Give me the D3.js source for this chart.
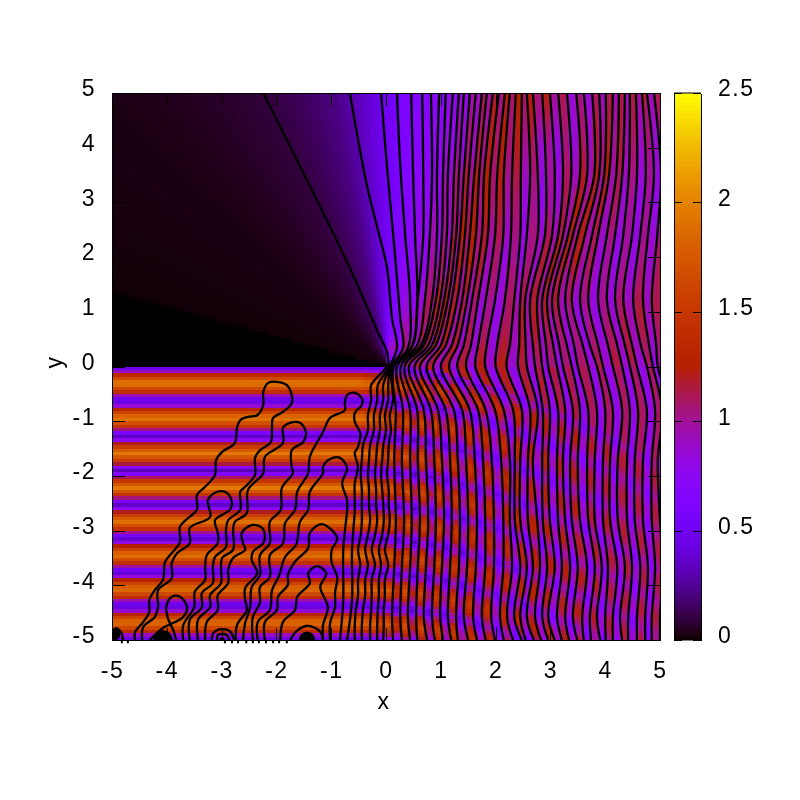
<!DOCTYPE html>
<html><head><meta charset="utf-8">
<script src="https://cdnjs.cloudflare.com/ajax/libs/d3/7.8.5/d3.min.js"></script>
<style>
html,body{margin:0;padding:0;background:#fff}
#wrap{position:relative;width:800px;height:800px}
canvas,svg{position:absolute;left:0;top:0}
text{font-family:"Liberation Sans",Arial,sans-serif;font-size:23px;letter-spacing:1.5px;fill:#000}
</style></head><body><div id="wrap"><canvas id="c" width="800" height="800"></canvas><svg id="s" width="800" height="800"></svg></div>
<script>
// ---------- ticks ----------
const xTicks=[-5,-4,-3,-2,-1,0,1,2,3,4,5];
const yTicks=[-5,-4,-3,-2,-1,0,1,2,3,4,5];
const cbTicks=[0,0.5,1,1.5,2,2.5];

// ---------- colour field readings ----------
// horizontal bands below y=0 (y, value)
const bandY=[.08,0,-.04,-.1,-.17,-.31,-.46,-.53,-.59,-.63,-.67,-.73,-.8,-.95,-1.1,-1.17,-1.23,-1.27,-1.31,-1.37,-1.44,-1.59,-1.74,-1.81,-1.87,-1.91,-1.95,-2.01,-2.08,-2.22,-2.35,-2.42,-2.48,-2.52,-2.56,-2.62,-2.69,-2.83,-2.97,-3.04,-3.1,-3.14,-3.18,-3.24,-3.31,-3.45,-3.59,-3.66,-3.72,-3.76,-3.8,-3.86,-3.93,-4.07,-4.21,-4.28,-4.34,-4.38,-4.42,-4.48,-4.55,-4.69,-4.83,-4.9,-4.96,-5];
const bandV=[1.3,.32,.5,.95,1.45,2.0,1.45,.95,.5,.33,.5,.95,1.45,1.98,1.45,.95,.5,.3,.5,.95,1.45,1.97,1.45,.95,.5,.3,.5,.95,1.45,1.96,1.45,.95,.5,.3,.5,.95,1.45,1.95,1.45,.95,.5,.3,.5,.95,1.45,1.95,1.45,.95,.5,.3,.5,.95,1.45,1.93,1.45,.95,.5,.3,.5,.95,1.45,1.92,1.45,.95,.5,.3];
// lower half: how the bands fade to the right
const lowX=[-.5,0,.5,1,1.5,2,3,4,5];
const lowMean=[1.3,1.2,1.1,1.05,1.03,1,.98,.95,.95];
const lowStripe=[0,.1,.25,.28,.28,.26,.2,.18,.17];
const lowDepth=[1,.8,.55,.42,.35,.28,.2,.14,.1];
const lowShift=[0,.02,.07,.15,.28,.42,.8,1.25,1.8];
// dark wedge above y=0: angle from the -x axis in degrees, value
const wedgeAngle=[0,15,16,28,29,40,45,50,57,65,72,79,83,86,90,95,100,110,180];
const wedgeValue=[0,0,.012,.018,.022,.026,.03,.04,.06,.09,.14,.21,.3,.38,.5,.6,.68,.75,.8];
const originR=[0,.1,.2,.35];
const originK=[.1,.4,.7,1];
// upper right: stripe high and low values
const gridX=[0,.5,1,1.5,2,2.5,3,3.5,4,4.5,5];
const gridY=[5,4,3,2,1,0];
const gridHi=[
[.62,.72,.8,.95,1.2,1.28,1.25,1.05,1.15,1.2,1.15],
[.62,.75,.85,1.1,1.3,1.2,1,1.1,1.28,1.1,1],
[.62,.78,.95,1.3,1.25,1.05,1,1.28,1.2,1,1],
[.6,.8,1.1,1.3,1.1,1,1.25,1.25,1,1,1.15],
[.6,1,1.3,1.1,1,1.25,1.2,1,1.05,1.2,1.15],
[1.1,1.3,1.2,1.2,1.3,1.2,1.05,1.1,1.2,1.15,1.05]];
const gridLo=[
[.58,.68,.72,.8,1,1.1,1,.8,.9,.95,.9],
[.58,.7,.76,.85,1.1,1,.8,.85,1,.9,.85],
[.58,.72,.78,1.05,1.05,.8,.78,1,.95,.8,.8],
[.55,.72,.8,1.1,.85,.78,1,1,.8,.8,.9],
[.5,.75,1.1,.85,.78,1,.95,.8,.8,.95,.9],
[.6,.85,.85,.85,.85,.85,.8,.8,.85,.85,.8]];

// ---------- contour readings ----------
// first five long lines: upper part as x,y pairs
const nearUpper=[
[-2.24,5,-.66,1.8,-.15,.63,.02,.26,.03,.03],
[-.66,5,-.35,3.32,-.11,2.35,.02,1.8,.11,.88,.2,.34,.05,-.02],
[-.09,5,.02,3.63,.16,2.09,.26,.88,.31,.34,.07,-.03],
[.2,5,.26,3.68,.35,2.4,.44,1.22,.4,.34,.09,-.03],
[.46,5,.49,3.68,.53,2.4,.57,1.22,.46,.34,.11,-.03]];
const nearLowerY=[-.34,-.61,-.89,-1.16,-1.44,-1.71,-1.98,-2.26,-2.53,-2.81,-3.08,-3.35,-3.63,-3.9,-4.18,-4.45,-4.73,-5];
const nearLowerX=[
[-.27,-.27,-.33,-.33,-.42,-.44,-.46,-.44,-.44,-.44,-.46,-.51,-.47,-.51,-.51,-.55,-.57,-.57],
[-.15,-.16,-.22,-.22,-.29,-.31,-.33,-.31,-.31,-.29,-.33,-.38,-.33,-.38,-.38,-.42,-.44,-.44],
[-.05,-.05,-.11,-.11,-.16,-.18,-.2,-.18,-.18,-.16,-.2,-.26,-.2,-.26,-.26,-.27,-.29,-.29],
[.04,.04,-.02,0,-.05,-.07,-.09,-.07,-.05,-.04,-.07,-.13,-.09,-.13,-.13,-.15,-.16,-.16],
[.11,.13,.07,.09,.05,.04,.02,.05,.05,.07,.04,-.02,.04,-.02,-.02,-.04,-.04,-.05]];
// remaining lines: x of each line at each y of farY
const farY=[5,3.5,2.4,1.22,.39,0,-.8,-1.71,-2.81,-3.67,-4.58,-5];
const farRows=[
[.66,.82,.97,1.09,1.22,1.33,1.42,1.53,1.64,1.75,1.84,1.95,2.06,2.17,2.26,2.37,2.48,2.57,2.68,2.85,2.99,3.14,3.30,3.47,3.61,3.76,3.89,4.01,4.14,4.25,4.36,4.45,4.56,4.67,4.76,4.89],
[.68,.84,.93,1.04,1.13,1.24,1.33,1.42,1.51,1.61,1.70,1.79,1.90,2.03,2.15,2.30,2.46,2.63,2.77,2.92,3.08,3.23,3.38,3.54,3.67,3.80,3.89,3.98,4.07,4.20,4.31,4.43,4.58,4.74,4.89,5.02],
[.68,.80,.93,1.02,1.11,1.20,1.28,1.35,1.44,1.53,1.64,1.75,1.86,1.99,2.14,2.28,2.45,2.57,2.77,2.90,3.03,3.14,3.23,3.32,3.41,3.50,3.63,3.76,3.87,4.03,4.18,4.33,4.49,4.64,4.78,4.95],
[.58,.71,.84,.91,.99,1.06,1.13,1.20,1.30,1.39,1.48,1.57,1.68,1.82,1.99,2.17,2.34,2.45,2.54,2.63,2.76,2.85,2.94,3.03,3.14,3.27,3.39,3.54,3.69,3.87,4.03,4.18,4.33,4.51,4.69,4.85],
[.49,.57,.64,.69,.77,.84,.91,1.00,1.09,1.20,1.31,1.42,1.55,1.68,1.84,2.03,2.26,2.43,2.55,2.68,2.81,2.92,3.05,3.16,3.30,3.43,3.59,3.72,3.87,4.05,4.22,4.36,4.49,4.65,4.80,4.93],
[.14,.2,.27,.34,.42,.52,.62,.74,.86,1.0,1.15,1.3,1.46,1.63,1.81,2.0,2.2,2.41,2.57,2.72,2.85,2.96,3.12,3.23,3.39,3.50,3.69,3.85,3.96,4.14,4.31,4.45,4.58,4.76,4.87,4.96],
[.18,.31,.44,.57,.69,.82,.95,1.09,1.24,1.39,1.53,1.68,1.82,1.99,2.15,2.32,2.48,2.63,2.77,2.86,2.99,3.14,3.27,3.41,3.54,3.69,3.85,4.00,4.14,4.31,4.45,4.60,4.76,4.91,5.04,5.18],
[.15,.29,.44,.58,.73,.88,1.02,1.17,1.31,1.46,1.62,1.77,1.93,2.10,2.26,2.35,2.45,2.59,2.68,2.85,2.96,3.12,3.23,3.36,3.50,3.67,3.81,3.96,4.09,4.23,4.40,4.54,4.69,4.85,4.96,5.15],
[.18,.33,.47,.62,.77,.91,1.06,1.20,1.35,1.50,1.66,1.81,1.97,2.14,2.26,2.35,2.45,2.59,2.76,2.86,2.99,3.14,3.27,3.39,3.54,3.69,3.81,3.96,4.09,4.23,4.40,4.54,4.69,4.85,5.00,5.15],
[.15,.29,.44,.58,.73,.88,1.02,1.17,1.33,1.48,1.64,1.81,1.97,2.14,2.30,2.45,2.57,2.68,2.81,2.94,3.08,3.21,3.36,3.50,3.67,3.81,3.94,4.05,4.22,4.36,4.49,4.64,4.78,4.91,5.05,5.22],
[.11,.26,.40,.55,.69,.84,.99,1.13,1.28,1.42,1.59,1.75,1.92,2.08,2.21,2.34,2.45,2.57,2.72,2.85,2.96,3.12,3.27,3.41,3.58,3.72,3.85,4.00,4.14,4.27,4.42,4.58,4.73,4.85,5.00,5.15],
[.13,.29,.44,.57,.75,.89,1.04,1.19,1.31,1.50,1.66,1.82,1.99,2.15,2.32,2.48,2.55,2.70,2.83,2.96,3.08,3.21,3.34,3.49,3.61,3.74,3.91,4.01,4.14,4.31,4.42,4.58,4.73,4.85,5.00,5.15]];
// looped contours on the lower left, as x,y pairs
const loops=[
[-4.58,-5,-4.58,-4.86,-4.43,-4.67,-4.32,-4.49,-4.32,-4.27,-4.22,-4.09,-4.07,-3.9,-4.03,-3.57,-3.89,-3.39,-3.76,-3.21,-3.76,-2.93,-3.61,-2.77,-3.45,-2.62,-3.45,-2.35,-3.3,-2.2,-3.12,-1.98,-3.1,-1.71,-2.99,-1.56,-2.76,-1.4,-2.72,-1.12,-2.66,-.98,-2.52,-.92,-2.35,-.89,-2.24,-.7,-2.24,-.47,-2.15,-.3,-1.99,-.28,-1.81,-.34,-1.72,-.52,-1.72,-.67,-1.88,-.83,-2.06,-.94,-2.08,-1.12,-2.1,-1.38,-2.3,-1.53,-2.39,-1.67,-2.39,-1.98,-2.57,-2.2,-2.66,-2.29,-2.66,-2.62,-2.88,-2.81,-2.92,-2.99,-2.92,-3.3,-3.12,-3.48,-3.16,-3.67,-3.16,-3.96,-3.36,-4.14,-3.36,-4.4,-3.58,-4.63,-3.58,-5],
[-4.45,-5,-4.43,-4.76,-4.22,-4.58,-4.16,-4.4,-4.16,-4.09,-3.91,-3.87,-3.91,-3.59,-3.81,-3.41,-3.58,-3.23,-3.58,-2.95,-3.21,-2.75,-3.25,-2.44,-3.08,-2.29,-2.9,-2.31,-2.81,-2.5,-2.85,-2.62,-3.12,-2.81,-3.07,-3.04,-3.07,-3.23,-3.27,-3.45,-3.3,-3.67,-3.3,-3.9,-3.49,-4.12,-3.5,-4.4,-3.7,-4.73,-3.7,-5],
[-4.31,-5,-4.07,-4.78,-3.7,-4.58,-3.63,-4.4,-3.76,-4.21,-3.91,-4.21,-4.01,-4.4,-3.98,-4.6,-3.87,-4.85,-3.83,-5],
[-3.43,-5,-3.43,-4.63,-3.21,-4.4,-3.21,-4.18,-3.01,-3.96,-3.01,-3.72,-2.99,-3.5,-2.79,-3.35,-2.79,-2.99,-2.76,-2.84,-2.54,-2.68,-2.52,-2.26,-2.24,-1.95,-2.21,-1.65,-1.88,-1.4,-1.88,-1.12,-1.75,-1.03,-1.57,-1.03,-1.46,-1.2,-1.51,-1.38,-1.72,-1.53,-1.72,-1.84,-1.7,-1.95,-1.9,-2.22,-1.92,-2.62,-2.12,-2.84,-2.12,-3.23,-2.3,-3.45,-2.3,-3.82,-2.45,-4.03,-2.48,-4.4,-2.57,-4.69,-2.61,-5],
[-3.3,-5,-3.27,-4.67,-3.07,-4.45,-3.07,-4.18,-2.88,-3.96,-2.88,-3.72,-2.79,-3.5,-2.57,-3.35,-2.61,-3.23,-2.63,-3.04,-2.45,-2.9,-2.26,-2.95,-2.21,-3.12,-2.24,-3.23,-2.43,-3.39,-2.45,-3.54,-2.35,-3.78,-2.57,-4.05,-2.57,-4.27,-2.54,-4.45,-2.72,-4.73,-2.74,-5],
[-2.43,-5,-2.43,-4.58,-2.3,-4.32,-2.3,-4.03,-2.12,-3.85,-2.12,-3.45,-1.88,-3.23,-1.84,-2.86,-1.66,-2.62,-1.62,-2.29,-1.42,-1.95,-1.39,-1.65,-1.15,-1.2,-1.02,-.94,-.75,-.8,-.75,-.67,-.71,-.52,-.57,-.48,-.44,-.58,-.44,-.7,-.57,-.85,-.57,-1.01,-.47,-1.22,-.51,-1.47,-.57,-1.58,-.51,-1.84,-.57,-2.13,-.57,-2.62,-.62,-3.35,-.62,-4.27,-.71,-5],
[-2.34,-5,-2.34,-4.67,-2.12,-4.45,-2.08,-4.09,-1.95,-3.82,-1.84,-3.48,-1.64,-3.26,-1.57,-2.84,-1.42,-2.62,-1.39,-2.29,-1.15,-1.95,-1.15,-1.84,-1.02,-1.69,-.84,-1.67,-.71,-1.86,-.8,-2.13,-.71,-2.44,-.71,-2.62,-.78,-3.35,-.78,-4.27,-.84,-5],
[-2.21,-5,-2.21,-4.67,-1.99,-4.45,-1.97,-4.21,-1.79,-3.99,-1.79,-3.81,-1.66,-3.57,-1.42,-3.32,-1.39,-3.04,-1.17,-2.88,-.89,-3.14,-.99,-3.35,-.99,-3.59,-.89,-3.85,-.93,-4.14,-.93,-4.4,-1.02,-4.69,-1.02,-5],
[-1.93,-5,-1.88,-4.67,-1.66,-4.45,-1.62,-4.21,-1.39,-3.96,-1.42,-3.78,-1.26,-3.65,-1.09,-3.78,-1.2,-4.03,-1.06,-4.4,-1.15,-4.73,-1.15,-5],
[-1.75,-5,-1.61,-4.82,-1.42,-4.74,-1.2,-4.85,-1.15,-5],
[-3.18,-5,-3.14,-4.86,-2.99,-4.8,-2.85,-4.84,-2.77,-5],
[-3.08,-5,-3.07,-4.91,-2.99,-4.89,-2.9,-4.91,-2.86,-5],
[-5,-4.86,-4.93,-4.79,-4.83,-4.87,-4.8,-5]];
// solid spots where contours pile up: x,y,radius
const spotX=[-4.95,-4.07,-1.44,-2.99];
const spotY=[-4.9,-5,-5,-5];
const spotR=[.1,.18,.15,.05];
// contour stubs just below the frame
const stubX=[-4.82,-4.71,-2.94,-2.81,-2.7,-2.55,-2.43,-2.32,-2.19,-2.06,-1.95,-1.81];

// ---------- scales ----------
const x=d3.scaleLinear().domain([-5,5]).range([112,660]);
const y=d3.scaleLinear().domain([-5,5]).range([640,93]);
const cb=d3.scaleLinear().domain([0,2.5]).range([640,93]);
const palette=v=>{const t=Math.max(0,Math.min(1,v/2.5));
  return d3.rgb(255*Math.sqrt(t),255*t*t*t,255*Math.max(0,Math.sin(2*Math.PI*t))).toString();};

// build long lines
const chunk=a=>d3.range(0,a.length,2).map(i=>[a[i],a[i+1]]);
const longLines=[];
nearUpper.forEach((u,i)=>longLines.push(chunk(u).concat(nearLowerY.map((yy,j)=>[nearLowerX[i][j],yy]))));
farRows[0].forEach((_,k)=>longLines.push(farY.map((yy,r)=>[farRows[r][k],yy])));

const lineXAt=(ln,yy)=>{
  for(let i=1;i<ln.length;i++){
    if(yy>=ln[i][1]){const a=ln[i-1],b=ln[i],f=(a[1]-yy)/((a[1]-b[1])||1);return a[0]+(b[0]-a[0])*f;}
  }
  return ln[ln.length-1][0];
};
const band=d3.scaleLinear().domain(bandY).range(bandV).clamp(true);
const lerp=(xs,vs)=>d3.scaleLinear().domain(xs).range(vs).clamp(true);
const lm=lerp(lowX,lowMean),ls=lerp(lowX,lowStripe),ld=lerp(lowX,lowDepth),lsh=lerp(lowX,lowShift);
const wedge=lerp(wedgeAngle,wedgeValue),oK=lerp(originR,originK);
const bil=(g,xx,yy)=>{
  const cx=Math.min(gridX.length-2,Math.max(0,d3.bisectRight(gridX,xx)-1));
  const fx=Math.max(0,Math.min(1,(xx-gridX[cx])/(gridX[cx+1]-gridX[cx])));
  const ry=Math.min(gridY.length-2,Math.max(0,Math.floor(5-yy)));
  const fy=Math.max(0,Math.min(1,(gridY[ry]-yy)/(gridY[ry]-gridY[ry+1])));
  const a=g[ry][cx]*(1-fx)+g[ry][cx+1]*fx,b=g[ry+1][cx]*(1-fx)+g[ry+1][cx+1]*fx;
  return a*(1-fy)+b*fy;
};
const stripeAt=(xx,xs)=>{
  const i=d3.bisectRight(xs,xx)-1;
  let p;
  if(i<0)return 0;
  if(i>=xs.length-1)p=xs.length-1+(xx-xs[xs.length-1])/.15;
  else p=i+(xx-xs[i])/((xs[i+1]-xs[i])||.01);
  return Math.sin(Math.PI*p);
};
const value=(xx,yy,xs)=>{
  const s=stripeAt(xx,xs);
  if(yy>=0){
    const ang=Math.atan2(yy,-xx)*180/Math.PI;
    const hi=bil(gridHi,xx,yy),lo=bil(gridLo,xx,yy);
    const right=(hi+lo)/2+(hi-lo)/2*s;
    const mix=Math.max(0,Math.min(1,(ang-92)/16));
    return (wedge(ang)*(1-mix)+right*mix)*oK(Math.hypot(xx,yy));
  }
  if(xx<-.5)return band(yy);
  return lm(xx)+ls(xx)*s+ld(xx)*(band(yy+lsh(xx))-1.3);
};

// ---------- heat map ----------
const ctx=document.getElementById('c').getContext('2d');
ctx.fillStyle='#fff';ctx.fillRect(0,0,800,800);
const nCells=160,cw=10/nCells;
d3.range(nCells).forEach(j=>{
  const y0=5-j*cw,ym=y0-cw/2;
  const xs=longLines.map(l=>lineXAt(l,ym)).sort(d3.ascending);
  const py0=Math.round(y(y0)),py1=Math.round(y(y0-cw));
  d3.range(nCells).forEach(i=>{
    const x0=-5+i*cw;
    const px0=Math.round(x(x0)),px1=Math.round(x(x0+cw));
    ctx.fillStyle=palette(value(x0+cw/2,ym,xs));
    ctx.fillRect(px0,py0,px1-px0,py1-py0);
  });
});
// colour bar
const cbN=128;
d3.range(cbN).forEach(i=>{
  const a=i/cbN*2.5,b=(i+1)/cbN*2.5;
  const p0=Math.round(cb(b)),p1=Math.round(cb(a));
  ctx.fillStyle=palette((a+b)/2);
  ctx.fillRect(674,p0,27,p1-p0);
});

// ---------- svg overlay ----------
const svg=d3.select('#s');
svg.append('defs').append('clipPath').attr('id','plotClip').append('rect')
  .attr('x',x(-5)).attr('y',y(5)).attr('width',x(5)-x(-5)).attr('height',y(-5)-y(5));
const g=svg.append('g').attr('clip-path','url(#plotClip)');
const curve=d3.line().x(d=>x(d[0])).y(d=>y(d[1])).curve(d3.curveCatmullRom.alpha(.5));
g.selectAll('path.long').data(longLines).join('path').attr('class','long').attr('d',curve)
  .attr('fill','none').attr('stroke','#000').attr('stroke-width',2.3);
g.selectAll('path.loop').data(loops.map(chunk)).join('path').attr('class','loop').attr('d',curve)
  .attr('fill','none').attr('stroke','#000').attr('stroke-width',2.3);
g.selectAll('circle').data(spotX).join('circle').attr('cx',d=>x(d)).attr('cy',(d,i)=>y(spotY[i]))
  .attr('r',(d,i)=>x(spotR[i])-x(0)).attr('fill','#000');
svg.selectAll('line.stub').data(stubX).join('line').attr('class','stub')
  .attr('x1',d=>x(d)).attr('x2',d=>x(d)).attr('y1',y(-5)).attr('y2',y(-5.06))
  .attr('stroke','#000').attr('stroke-width',2);

const fmt=d=>String(d);
const styleAxis=(a,dy)=>{a.selectAll('path,line').attr('stroke','#000').attr('stroke-width',1).attr('shape-rendering','crispEdges');
  a.selectAll('text').attr('fill','#000').attr('transform',`translate(0,${dy||0})`)
   .style('font-family','"Liberation Sans",Arial,sans-serif').style('font-size','23px');};
const T=12.5;
svg.append('g').attr('transform',`translate(0,${y(-5)})`)
  .call(d3.axisBottom(x).tickValues(xTicks).tickFormat(fmt).tickSizeInner(-T).tickSizeOuter(0).tickPadding(22)).call(styleAxis,0);
svg.append('g').attr('transform',`translate(0,${y(5)})`)
  .call(d3.axisTop(x).tickValues(xTicks).tickFormat('').tickSizeInner(-T).tickSizeOuter(0)).call(styleAxis,0);
svg.append('g').attr('transform',`translate(${x(-5)},0)`)
  .call(d3.axisLeft(y).tickValues(yTicks).tickFormat(fmt).tickSizeInner(-T).tickSizeOuter(0).tickPadding(16)).call(styleAxis,-4.5);
svg.append('g').attr('transform',`translate(${x(5)},0)`)
  .call(d3.axisRight(y).tickValues(yTicks).tickFormat('').tickSizeInner(-T).tickSizeOuter(0)).call(styleAxis,0);
// colour bar frame and ticks
svg.append('g').attr('transform','translate(701,0)')
  .call(d3.axisRight(cb).tickValues(cbTicks).tickFormat(fmt).tickSizeInner(-8).tickSizeOuter(0).tickPadding(17)).call(styleAxis,-4.5);
svg.append('g').attr('transform','translate(674,0)')
  .call(d3.axisLeft(cb).tickValues(cbTicks).tickFormat('').tickSizeInner(-8).tickSizeOuter(0)).call(styleAxis,0);
svg.append('line').attr('x1',674).attr('x2',701).attr('y1',93).attr('y2',93).attr('stroke','#000');
svg.append('line').attr('x1',674).attr('x2',701).attr('y1',640).attr('y2',640).attr('stroke','#000');
svg.append('text').attr('x',384).attr('y',709).attr('text-anchor','middle').text('x');
svg.append('text').attr('transform','translate(62,362) rotate(-90)').attr('text-anchor','middle').text('y');
</script></body></html>
